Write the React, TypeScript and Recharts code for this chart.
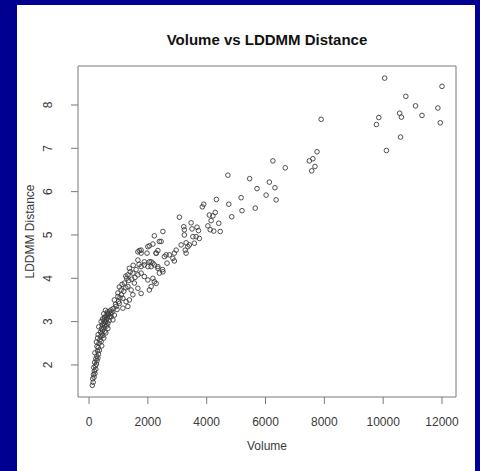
import React from 'react';
import { ScatterChart, Scatter, XAxis, YAxis, ReferenceArea } from 'recharts';

const title = 'Volume vs LDDMM Distance';
const xLabel = 'Volume';
const yLabel = 'LDDMM Distance';
const xTicks = [0, 2000, 4000, 6000, 8000, 10000, 12000];
const yTicks = [2, 3, 4, 5, 6, 7, 8];
const xDomain = [-376, 12476];
const yDomain = [1.26, 8.9];

// lower tail and dense band
const volumeLow = [
  110, 140, 125, 170, 150, 200, 180, 230, 160, 210, 250, 190, 270, 230, 300, 260, 320, 200, 290, 350,
  310, 270, 430, 340, 250, 410, 370, 290, 500, 400, 310, 470, 430, 570, 390, 460, 540, 420, 500, 640,
  330, 450, 530, 600, 480, 560, 640, 410, 520, 590, 680, 460, 620, 540, 700, 580, 660, 500, 740, 620,
  700, 780, 560,
];
const distanceLow = [
  1.53, 1.6, 1.68, 1.72, 1.78, 1.8, 1.86, 1.9, 1.94, 1.98, 2.02, 2.06, 2.1, 2.14, 2.16, 2.2, 2.25, 2.28, 2.32, 2.34,
  2.4, 2.43, 2.44, 2.5, 2.53, 2.54, 2.58, 2.62, 2.62, 2.66, 2.7, 2.68, 2.72, 2.74, 2.76, 2.8, 2.78, 2.84, 2.86, 2.84,
  2.88, 2.92, 2.92, 2.9, 2.96, 2.98, 2.96, 3.0, 3.02, 3.04, 3.02, 3.06, 3.08, 3.1, 3.12, 3.14, 3.16, 3.18, 3.18, 3.22,
  3.24, 3.22, 3.26,
];

const volumeBand = [
  750, 640, 860, 520, 810, 980, 860, 1150, 1260, 1370, 1030, 920, 750, 1150, 1320, 1200, 1090, 1320, 1430, 1540,
  1660, 1770, 1490, 1880, 2000, 2170, 2220, 2280, 2110, 2050, 1320, 1490, 1660, 1770, 1370, 1880, 2050, 2170, 2110, 2340,
  2390, 2510, 1660, 1770, 2280, 2620, 2050, 2450,
  820, 900, 950, 1000, 1050, 980, 1100, 1180, 1250, 1030, 1120, 1350, 1450, 1280, 1560, 1400, 1600, 1500, 1700, 1250,
  2500, 2650, 2900, 1710,
];
const distanceBand = [
  3.11, 3.19, 3.15, 3.08, 3.04, 3.58, 3.5, 3.54, 3.46, 3.5, 3.42, 3.35, 3.27, 3.31, 3.35, 3.89, 3.73, 3.81, 3.73, 3.89,
  3.77, 3.65, 3.62, 4.04, 3.96, 4.0, 3.92, 3.88, 3.81, 3.73, 4.08, 4.12, 4.08, 4.12, 4.23, 4.31, 4.38, 4.35, 4.27, 4.27,
  4.12, 4.15, 4.61, 4.58, 4.58, 4.54, 4.75, 4.85,
  3.3, 3.4, 3.28, 3.46, 3.55, 3.66, 3.62, 3.7, 3.78, 3.8, 3.86, 3.95, 3.98, 4.0, 4.02, 4.15, 4.2, 4.3, 4.32, 4.05,
  4.2, 4.35, 4.4, 4.64,
];

const volumeMid = [
  6250, 6670, 4720, 5460, 6130, 6320, 5710, 6020, 6360, 5170, 4330, 4750, 5650, 5200, 3900, 3850, 4290, 4090, 4210, 4150,
  4410, 4850, 4040, 4120, 4240, 4460, 3470, 3670, 3500, 3720, 3640, 3530, 3220, 3240, 3580, 3360, 3270, 3070, 3750, 3240,
  3300, 3130, 3410, 2510, 2220, 2390, 2170, 1770, 2000, 1970, 2280, 2340, 2560, 2730, 2900, 2850, 2960, 3300, 1660, 1880,
  2110, 2220, 2000, 2340, 1770,
];
const distanceMid = [
  6.71, 6.55, 6.38, 6.3, 6.22, 6.09, 6.07, 5.92, 5.81, 5.86, 5.82, 5.71, 5.62, 5.56, 5.71, 5.65, 5.52, 5.46, 5.44, 5.33,
  5.27, 5.42, 5.21, 5.12, 5.09, 5.08, 5.28, 5.18, 5.14, 5.1, 4.96, 4.96, 5.19, 5.12, 4.81, 4.73, 4.65, 5.41, 4.92, 5.0,
  4.82, 4.77, 4.77, 5.08, 4.98, 4.85, 4.79, 4.65, 4.73, 4.58, 4.58, 4.64, 4.5, 4.54, 4.58, 4.46, 4.65, 4.58, 4.42, 4.38,
  4.38, 4.31, 4.27, 4.23, 4.27,
];

const volumeHigh = [
  7890, 7750, 7490, 7610, 7570, 7680, 10050, 12000, 10770, 11100, 11860, 10560, 10620, 11320, 9850, 9770, 11940, 10590, 10110,
];
const distanceHigh = [
  7.67, 6.92, 6.71, 6.76, 6.48, 6.58, 8.62, 8.43, 8.2, 7.98, 7.93, 7.81, 7.72, 7.76, 7.71, 7.55, 7.59, 7.26, 6.95,
];

const volume = [...volumeLow, ...volumeBand, ...volumeMid, ...volumeHigh];
const distance = [...distanceLow, ...distanceBand, ...distanceMid, ...distanceHigh];
const data = volume.map((v, i) => ({ volume: v, distance: distance[i] }));

const FONT = '"Liberation Sans", Arial, Helvetica, sans-serif';
const TEXT = '#3a3a3a';
const LINE = '#7a7a7a';

const Ring = (props: any) => {
  const { cx, cy } = props;
  if (cx == null || cy == null) return null;
  return <circle cx={cx} cy={cy} r={2.3} fill="none" stroke="#3c3c3c" strokeWidth={0.9} />;
};

const YTick = (props: any) => {
  const { x, y, payload } = props;
  return (
    <text x={x} y={y} transform={`rotate(-90 ${x} ${y})`} textAnchor="middle" fontSize={12} fill={TEXT} fontFamily={FONT}>
      {payload.value}
    </text>
  );
};

const YTitle = (props: any) => {
  const vb = props.viewBox || { x: 0, y: 0, width: 0, height: 0 };
  const x = vb.x + 16;
  const y = vb.y + vb.height / 2;
  return (
    <text x={x} y={y} transform={`rotate(-90 ${x} ${y})`} textAnchor="middle" fontSize={12} fill={TEXT} fontFamily={FONT}>
      {yLabel}
    </text>
  );
};

const XTitle = (props: any) => {
  const vb = props.viewBox || { x: 0, y: 0, width: 0, height: 0 };
  return (
    <text x={vb.x + vb.width / 2} y={vb.y + 53} textAnchor="middle" fontSize={12} fill={TEXT} fontFamily={FONT}>
      {xLabel}
    </text>
  );
};

export default function App() {
  return (
    <div style={{ position: 'absolute', left: 0, top: 0, width: 480, height: 471, background: '#000090', overflow: 'hidden' }}>
      <div style={{ position: 'absolute', left: 17, top: 5, width: 458, height: 466, background: '#ffffff' }} />
      <div
        style={{
          position: 'absolute',
          left: 78,
          top: 31,
          width: 378,
          textAlign: 'center',
          fontFamily: FONT,
          fontWeight: 'bold',
          fontSize: 15,
          lineHeight: '18px',
          color: '#111',
        }}
      >
        {title}
      </div>
      <div style={{ position: 'absolute', left: 0, top: 0 }}>
        <ScatterChart width={480} height={471} margin={{ top: 66, right: 24, bottom: 18, left: 18 }}>
          <XAxis
            type="number"
            dataKey="volume"
            domain={xDomain}
            ticks={xTicks}
            allowDataOverflow
            axisLine={false}
            tickLine={{ stroke: LINE }}
            tickSize={7}
            tickMargin={13}
            height={56}
            tick={{ fontSize: 12, fill: TEXT, fontFamily: FONT }}
            label={<XTitle />}
            interval={0}
          />
          <YAxis
            type="number"
            dataKey="distance"
            domain={yDomain}
            ticks={yTicks}
            allowDataOverflow
            axisLine={false}
            tickLine={{ stroke: LINE }}
            tickSize={7}
            tickMargin={19}
            width={60}
            tick={<YTick />}
            label={<YTitle />}
            interval={0}
          />
          <ReferenceArea
            x1={xDomain[0]}
            x2={xDomain[1]}
            y1={yDomain[0]}
            y2={yDomain[1]}
            fill="none"
            fillOpacity={0}
            stroke={LINE}
            strokeWidth={1}
            strokeOpacity={1}
          />
          <Scatter data={data} shape={<Ring />} isAnimationActive={false} />
        </ScatterChart>
      </div>
    </div>
  );
}
